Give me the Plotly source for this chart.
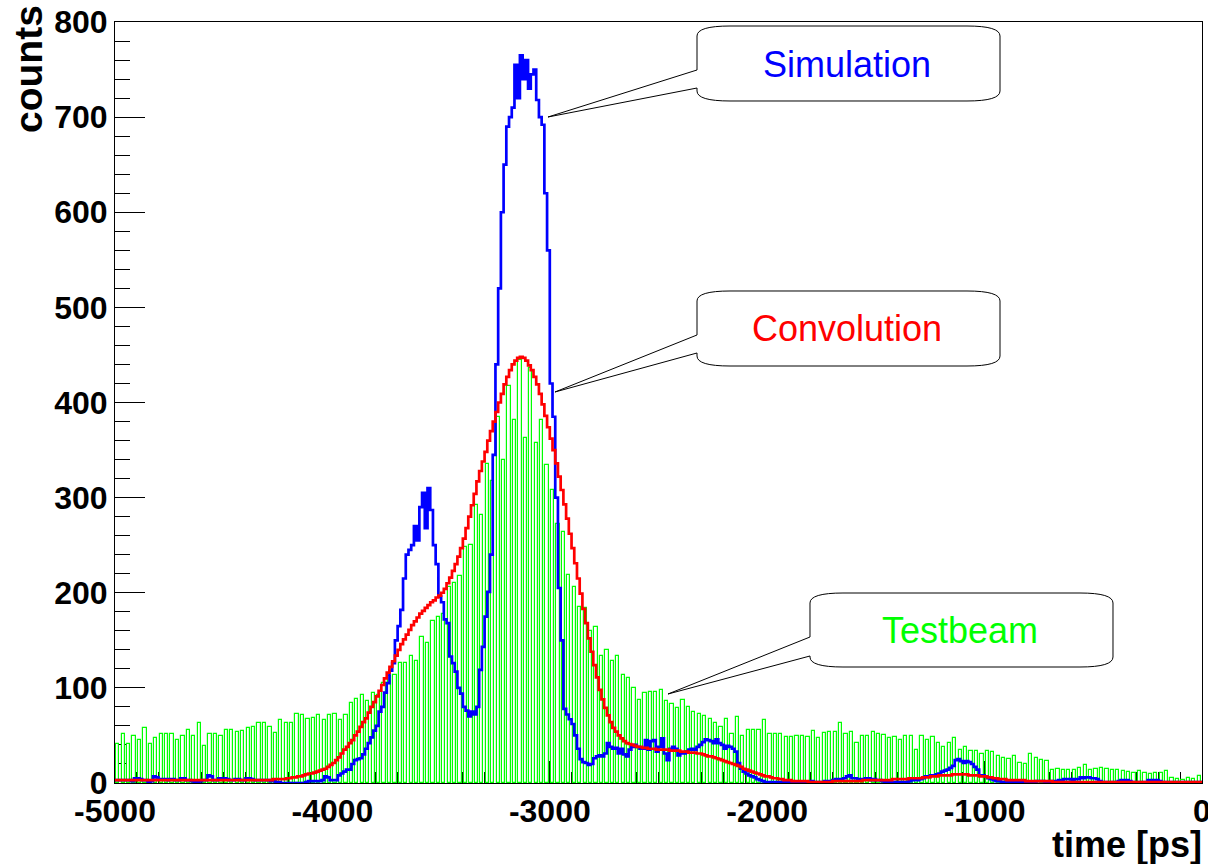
import numpy as np
import plotly.graph_objects as go

# ---------------- data ----------------
x_range = [-5000, 0]
y_range = [0, 800]
testbeam_bin = 25.0      # ps, testbeam histogram bin width
fine_bin = 12.5          # ps, simulation / convolution bin width

testbeam_counts = [
    41, 51, 41, 49, 45, 58, 41, 47, 52, 52, 51, 45, 49, 56, 49, 63, 39, 52, 52, 49,
    56, 56, 54, 55, 58, 59, 63, 63, 59, 53, 66, 63, 63, 73, 72, 67, 68, 71, 66, 72,
    73, 66, 72, 84, 88, 92, 86, 95, 92, 105, 113, 114, 126, 126, 133, 128, 153, 147, 170, 174,
    178, 206, 210, 218, 248, 250, 292, 282, 335, 318, 385, 340, 417, 382, 445, 363, 436, 357, 382, 334,
    308, 272, 264, 219, 206, 185, 184, 160, 164, 133, 140, 128, 133, 114, 110, 100, 87, 95, 96, 96,
    98, 86, 83, 79, 87, 80, 75, 73, 70, 67, 63, 59, 67, 52, 69, 49, 56, 56, 56, 66,
    52, 52, 52, 48, 48, 49, 49, 48, 55, 47, 53, 54, 54, 63, 52, 54, 42, 49, 49, 54,
    52, 50, 47, 48, 45, 49, 49, 35, 49, 45, 48, 42, 38, 42, 47, 35, 38, 34, 34, 30,
    34, 33, 28, 26, 25, 28, 21, 20, 30, 26, 24, 23, 14, 15, 14, 14, 14, 16, 19, 14,
    15, 16, 15, 14, 14, 13, 12, 11, 13, 10, 9, 11, 10, 13, 5, 4, 3, 5, 4, 7,
]

simulation_counts = [
    3, 3, 3, 3, 3, 3, 2, 5, 5, 4, 3, 3, 1, 2, 7, 6, 4, 4, 4, 3,
    4, 4, 3, 3, 5, 5, 3, 3, 2, 1, 1, 2, 3, 3, 8, 7, 3, 3, 5, 5,
    5, 4, 3, 3, 4, 4, 3, 3, 5, 5, 4, 3, 3, 3, 3, 3, 3, 2, 2, 1,
    1, 0, 0, 0, 0, 0, 0, 0, 0, 0, 1, 2, 2, 2, 2, 2, 3, 7, 6, 3,
    3, 3, 8, 10, 12, 14, 14, 20, 24, 25, 26, 30, 36, 42, 48, 55, 60, 75, 80, 95,
    105, 118, 126, 150, 165, 182, 215, 240, 245, 250, 270, 255, 290, 305, 268, 310, 287, 250, 230, 196,
    190, 172, 168, 133, 126, 117, 100, 94, 80, 76, 70, 75, 72, 80, 119, 143, 175, 201, 240, 345,
    440, 520, 600, 650, 690, 700, 710, 755, 720, 765, 740, 760, 730, 745, 750, 718, 700, 692, 620, 560,
    420, 385, 300, 205, 150, 78, 72, 67, 62, 50, 36, 25, 22, 21, 19, 20, 26, 28, 29, 28,
    31, 42, 38, 36, 37, 31, 36, 30, 28, 35, 38, 40, 38, 36, 36, 45, 35, 44, 45, 33,
    38, 47, 31, 24, 36, 38, 36, 29, 31, 31, 33, 35, 36, 35, 38, 40, 43, 46, 45, 44,
    42, 46, 42, 40, 36, 39, 38, 36, 33, 21, 15, 12, 10, 8, 7, 6, 4, 3, 2, 1,
    1, 1, 0, 1, 1, 0, 1, 1, 1, 0, 1, 1, 0, 1, 1, 1, 2, 1, 1, 1,
    1, 2, 1, 2, 3, 4, 4, 3, 5, 7, 8, 5, 5, 4, 4, 4, 5, 5, 3, 4,
    3, 3, 2, 1, 1, 1, 1, 1, 1, 1, 1, 1, 2, 3, 3, 3, 4, 5, 7, 7,
    8, 8, 9, 10, 12, 13, 14, 16, 18, 24, 25, 23, 21, 23, 22, 20, 17, 14, 8, 8,
    7, 5, 4, 3, 2, 2, 1, 1, 1, 1, 1, 1, 1, 1, 1, 1, 1, 1, 1, 2,
    2, 2, 1, 1, 2, 2, 2, 3, 3, 4, 4, 4, 3, 4, 4, 6, 5, 6, 6, 5,
    5, 4, 2, 1, 1, 1, 1, 1, 1, 2, 3, 3, 3, 2, 1, 1, 1, 1, 1, 1,
    3, 3, 3, 3, 2, 1, 1, 1, 1, 1, 1, 1, 1, 1, 1, 1, 1, 1, 1, 1,
]

convolution_counts = [
    3, 3, 3, 3, 3, 3, 3, 3, 3, 3, 3, 3, 3, 3, 3, 3, 3, 3, 3, 3,
    3, 3, 3, 3, 3, 3, 3, 3, 3, 3, 3, 3, 3, 3, 3, 3, 3, 3, 3, 3,
    3, 3, 3, 3, 3, 3, 3, 3, 3, 3, 3, 3, 3, 3, 3, 3, 3, 3, 4, 4,
    4, 4, 4, 5, 5, 6, 6, 7, 7, 8, 9, 10, 10, 11, 12, 13, 14, 15, 17, 19,
    21, 24, 27, 31, 35, 38, 42, 45, 50, 54, 59, 64, 68, 74, 80, 85, 91, 97, 103, 110,
    116, 122, 128, 134, 140, 146, 151, 156, 161, 166, 170, 174, 178, 181, 184, 187, 190, 192, 195, 197,
    200, 204, 210, 216, 223, 230, 238, 247, 257, 268, 280, 292, 304, 317, 328, 338, 348, 360, 370, 380,
    390, 400, 409, 419, 427, 434, 440, 444, 447, 448, 447, 444, 439, 434, 427, 419, 409, 398, 386, 374,
    362, 350, 336, 322, 308, 293, 278, 262, 247, 231, 215, 199, 183, 168, 152, 138, 124, 111, 98, 88,
    79, 71, 64, 58, 54, 50, 47, 44, 42, 41, 40, 39, 38, 38, 37, 37, 36, 36, 36, 35,
    35, 35, 35, 35, 34, 34, 34, 34, 33, 33, 33, 32, 32, 32, 31, 31, 30, 29, 28, 28,
    27, 26, 25, 24, 23, 22, 21, 20, 19, 18, 17, 15, 14, 13, 12, 11, 10, 9, 8, 7,
    7, 6, 5, 5, 4, 4, 3, 3, 3, 2, 2, 2, 2, 2, 2, 1, 1, 1, 1, 1,
    1, 1, 1, 1, 2, 2, 2, 2, 2, 2, 2, 2, 2, 2, 2, 3, 3, 3, 3, 3,
    3, 3, 3, 3, 3, 3, 4, 4, 4, 4, 4, 4, 5, 5, 5, 5, 5, 6, 6, 6,
    7, 7, 7, 8, 8, 8, 8, 8, 9, 9, 9, 9, 9, 9, 8, 8, 8, 8, 7, 7,
    7, 6, 6, 5, 5, 4, 4, 4, 3, 3, 3, 3, 3, 3, 3, 2, 2, 2, 2, 2,
    2, 2, 2, 2, 2, 1, 1, 1, 1, 1, 1, 1, 1, 1, 1, 1, 1, 1, 1, 1,
    1, 1, 1, 1, 1, 1, 1, 1, 1, 1, 1, 1, 1, 1, 1, 1, 1, 1, 1, 1,
    1, 1, 1, 1, 1, 1, 1, 1, 1, 1, 1, 1, 1, 1, 1, 1, 1, 1, 1, 1,
]

x_tick_values = [-5000, -4000, -3000, -2000, -1000, 0]
x_tick_labels = ["-5000", "-4000", "-3000", "-2000", "-1000", "0"]
y_tick_values = [0, 100, 200, 300, 400, 500, 600, 700, 800]
y_tick_labels = ["0", "100", "200", "300", "400", "500", "600", "700", "800"]

x_title = "time [ps]"
y_title = "counts"
callout_labels = ["Simulation", "Convolution", "Testbeam"]

BLUE = "#0000ff"
RED = "#ff0000"
GREEN = "#00ff00"

# ---------------- geometry (pixels) ----------------
W, H = 1208, 864
PL, PR, PT, PB = 115, 1202, 22, 783


def paper(px, py):
    return (px - PL) / (PR - PL), (PB - py) / (PB - PT)


# ---------------- traces ----------------
tb_edges = np.arange(x_range[0], x_range[1], testbeam_bin)
tb_centers = tb_edges + testbeam_bin / 2
fine_edges = np.arange(x_range[0], x_range[1] + fine_bin / 2, fine_bin)


def step_xy(values):
    v = list(values)
    return fine_edges, v + [v[-1]]


fig = go.Figure()
fig.add_trace(go.Bar(
    x=tb_centers, y=testbeam_counts, width=testbeam_bin * 0.6,
    marker=dict(color="white", line=dict(color=GREEN, width=1.2)),
    showlegend=False, hoverinfo="skip",
))
sx, sy = step_xy(simulation_counts)
fig.add_trace(go.Scatter(
    x=sx, y=sy, mode="lines", line=dict(color=BLUE, width=2.7, shape="hv"),
    showlegend=False, hoverinfo="skip",
))
cx, cy = step_xy(convolution_counts)
fig.add_trace(go.Scatter(
    x=cx, y=cy, mode="lines", line=dict(color=RED, width=2.7, shape="hv"),
    showlegend=False, hoverinfo="skip",
))

# ---------------- callouts ----------------
callouts = [
    dict(left=697, right=1000, top=26, bottom=101, p1=70, p2=88, tip=(548, 117), text=(847, 64), color=BLUE),
    dict(left=697, right=1000, top=291, bottom=366, p1=335, p2=353, tip=(555, 392), text=(847, 328), color=RED),
    dict(left=810, right=1113, top=593, bottom=667, p1=637, p2=656, tip=(668, 694), text=(960, 630), color=GREEN),
]

shapes = []
annotations = []
RX, RY = 33, 10


def pt(px, py):
    x, y = paper(px, py)
    return f"{x:.5f},{y:.5f}"


for label, c in zip(callout_labels, callouts):
    L_, R_, T_, B_ = c["left"], c["right"], c["top"], c["bottom"]
    tx, ty = c["tip"]
    path = (
        f"M {pt(L_, T_ + RY)} Q {pt(L_, T_)} {pt(L_ + RX, T_)} "
        f"L {pt(R_ - RX, T_)} Q {pt(R_, T_)} {pt(R_, T_ + RY)} "
        f"L {pt(R_, B_ - RY)} Q {pt(R_, B_)} {pt(R_ - RX, B_)} "
        f"L {pt(L_ + RX, B_)} Q {pt(L_, B_)} {pt(L_, B_ - RY)} "
        f"L {pt(L_, c['p2'])} L {pt(tx, ty)} L {pt(L_, c['p1'])} Z"
    )
    shapes.append(dict(type="path", xref="paper", yref="paper", path=path,
                       line=dict(color="black", width=1), fillcolor="white", layer="above"))
    ax, ay = paper(*c["text"])
    annotations.append(dict(x=ax, y=ay, xref="paper", yref="paper", text=label,
                            showarrow=False, xanchor="center", yanchor="middle",
                            font=dict(family="Liberation Sans", size=36, color=c["color"])))

ttl_font = dict(family="Liberation Sans", size=39, color="black", weight="bold")
yx, yy = paper(29, 3)
annotations.append(dict(x=yx, y=yy, xref="paper", yref="paper", text=y_title, textangle=-90,
                        showarrow=False, xanchor="center", yanchor="top", font=ttl_font))
tx_, ty_ = paper(1204, 845)
annotations.append(dict(x=tx_, y=ty_, xref="paper", yref="paper", text=x_title,
                        showarrow=False, xanchor="right", yanchor="middle",
                        font=dict(family="Liberation Sans", size=36, color="black", weight="bold")))

tick_font = dict(family="Liberation Sans", size=32, color="black", weight="bold")

fig.update_layout(
    width=W, height=H,
    margin=dict(l=PL, r=W - PR, t=PT, b=H - PB, pad=0, autoexpand=False),
    paper_bgcolor="white", plot_bgcolor="white",
    bargap=0, barmode="overlay",
    shapes=shapes, annotations=annotations,
    xaxis=dict(
        range=x_range, tickmode="array", tickvals=x_tick_values, ticktext=x_tick_labels,
        ticks="inside", ticklen=22, tickwidth=1, tickcolor="black",
        minor=dict(tickmode="linear", tick0=-5000, dtick=100, ticks="inside",
                   ticklen=11, tickwidth=1, tickcolor="black"),
        showline=True, mirror=True, linecolor="black", linewidth=1,
        showgrid=False, zeroline=False, tickfont=tick_font, layer="below traces",
        ticklabeloverflow="allow", automargin=False, fixedrange=True,
    ),
    yaxis=dict(
        range=y_range, tickmode="array", tickvals=y_tick_values, ticktext=y_tick_labels,
        ticks="inside", ticklen=30, tickwidth=1, tickcolor="black",
        minor=dict(tickmode="linear", tick0=0, dtick=20, ticks="inside",
                   ticklen=15, tickwidth=1, tickcolor="black"),
        showline=True, mirror=True, linecolor="black", linewidth=1,
        showgrid=False, zeroline=False, tickfont=tick_font, layer="below traces",
        ticklabeloverflow="allow", automargin=False, fixedrange=True,
    ),
)

fig.write_html("out.html")
